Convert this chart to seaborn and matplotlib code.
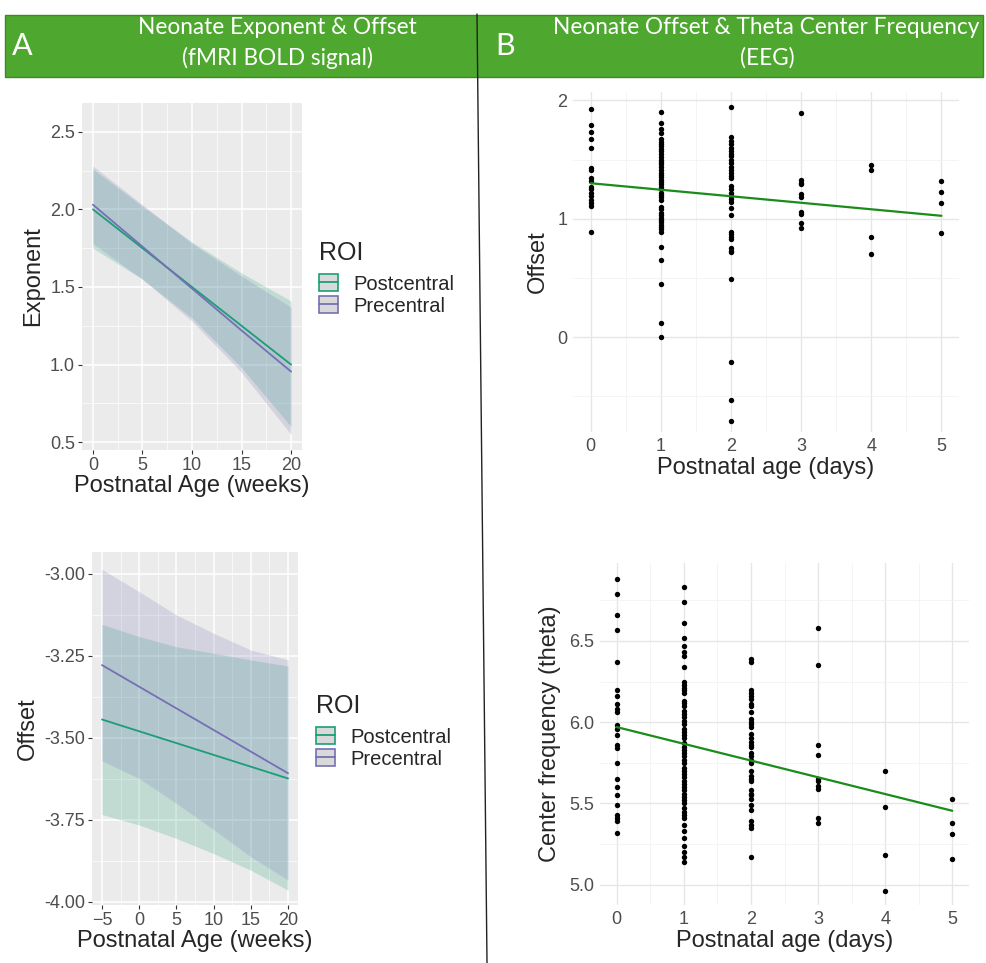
import numpy as np
import pandas as pd
import seaborn as sns
import matplotlib.pyplot as plt
from matplotlib.patches import Rectangle, Patch
from matplotlib.lines import Line2D
from matplotlib.ticker import MultipleLocator, FormatStrFormatter

# ---- Panel A (fMRI) model fits ----
roi_names = ['Postcentral', 'Precentral']
roi_colors = ['#1b9e77', '#7570b3']

exp_age = [0, 5, 10, 15, 20]
exp_post_fit = [2.00, 1.75, 1.50, 1.25, 1.00]
exp_pre_fit = [2.03, 1.76, 1.49, 1.22, 0.955]
exp_post_lo = [1.75, 1.55, 1.30, 0.98, 0.60]
exp_post_hi = [2.26, 2.02, 1.79, 1.59, 1.41]
exp_pre_lo = [1.78, 1.55, 1.28, 0.95, 0.55]
exp_pre_hi = [2.28, 2.03, 1.78, 1.57, 1.37]

off_age = [-5, 0, 5, 10, 15, 20]
off_post_fit = [-3.444, -3.480, -3.516, -3.552, -3.588, -3.624]
off_pre_fit = [-3.278, -3.344, -3.410, -3.476, -3.542, -3.608]
off_post_lo = [-3.734, -3.766, -3.807, -3.853, -3.904, -3.965]
off_post_hi = [-3.154, -3.191, -3.222, -3.242, -3.262, -3.281]
off_pre_lo = [-3.570, -3.624, -3.700, -3.780, -3.863, -3.934]
off_pre_hi = [-2.986, -3.054, -3.125, -3.181, -3.232, -3.262]

# ---- Panel B (EEG) data ----
offset_d0 = [1.93, 1.79, 1.73, 1.67, 1.60, 1.43, 1.41, 1.34, 1.32, 1.27, 1.25, 1.22, 1.19, 1.16, 1.13, 1.11, 0.89]
offset_d1 = [1.90, 1.81, 1.76, 1.72, 1.67, 1.65, 1.63, 1.61, 1.59, 1.57, 1.55, 1.52, 1.50, 1.48, 1.46,
             1.44, 1.41, 1.39, 1.37, 1.35, 1.33, 1.31, 1.29, 1.27, 1.25, 1.22, 1.20, 1.18, 1.16, 1.10,
             1.08, 1.05, 1.03, 1.01, 0.99, 0.97, 0.95, 0.93, 0.91, 0.89, 0.76, 0.65, 0.45, 0.12, 0.00]
offset_d2 = [1.94, 1.69, 1.66, 1.63, 1.60, 1.57, 1.55, 1.53, 1.50, 1.47, 1.44, 1.41, 1.39, 1.36, 1.34,
             1.28, 1.25, 1.22, 1.19, 1.17, 1.14, 1.09, 1.03, 0.89, 0.87, 0.85, 0.83, 0.75, 0.73, 0.72,
             0.49, -0.21, -0.53, -0.71]
offset_d3 = [1.89, 1.33, 1.30, 1.29, 1.21, 1.18, 1.06, 1.04, 0.96, 0.92]
offset_d4 = [1.45, 1.41, 0.85, 0.70]
offset_d5 = [1.32, 1.23, 1.13, 0.88]

theta_d0 = [6.88, 6.79, 6.66, 6.57, 6.37, 6.20, 6.16, 6.11, 6.08, 6.06, 5.98, 5.96, 5.92, 5.86, 5.84,
            5.75, 5.65, 5.60, 5.55, 5.49, 5.43, 5.41, 5.39, 5.32]
theta_d1 = [6.83, 6.74, 6.61, 6.52, 6.47, 6.43, 6.41, 6.34, 6.25, 6.23, 6.21, 6.20, 6.18, 6.13, 6.12,
            6.10, 6.07, 6.05, 6.03, 6.01, 5.99, 5.96, 5.94, 5.92, 5.90, 5.87, 5.85, 5.83, 5.81, 5.79,
            5.77, 5.75, 5.72, 5.70, 5.68, 5.66, 5.64, 5.62, 5.60, 5.58, 5.56, 5.54, 5.52, 5.50, 5.47,
            5.45, 5.43, 5.41, 5.37, 5.33, 5.29, 5.24, 5.20, 5.17, 5.14]
theta_d2 = [6.39, 6.37, 6.20, 6.18, 6.16, 6.14, 6.11, 6.10, 6.06, 6.02, 6.00, 5.99, 5.97, 5.93, 5.90,
            5.88, 5.86, 5.85, 5.81, 5.79, 5.77, 5.75, 5.70, 5.67, 5.65, 5.64, 5.58, 5.56, 5.55, 5.53,
            5.49, 5.46, 5.39, 5.37, 5.35, 5.17]
theta_d3 = [6.58, 6.35, 5.86, 5.80, 5.65, 5.64, 5.61, 5.59, 5.41, 5.38]
theta_d4 = [5.70, 5.48, 5.18, 4.96]
theta_d5 = [5.53, 5.38, 5.31, 5.16]

fit_days = [0, 5]
fit_offset = [1.30, 1.025]
fit_theta = [5.97, 5.455]


def long_table(groups):
    rows = []
    for day, vals in enumerate(groups):
        rows += [(day, v) for v in vals]
    return pd.DataFrame(rows, columns=['day', 'value'])


offset_df = long_table([offset_d0, offset_d1, offset_d2, offset_d3, offset_d4, offset_d5])
theta_df = long_table([theta_d0, theta_d1, theta_d2, theta_d3, theta_d4, theta_d5])

sns.set_theme(style='white')
plt.rcParams['font.family'] = ['Liberation Sans', 'DejaVu Sans']

W, H = 986, 963
fig = plt.figure(figsize=(W / 100, H / 100), dpi=100)


def ax_at(x0, y0, x1, y1):
    return fig.add_axes([x0 / W, 1 - y1 / H, (x1 - x0) / W, (y1 - y0) / H])


# ---- header ----
fig.patches.append(Rectangle((5 / W, 1 - 77 / H), 978 / W, 62 / H, transform=fig.transFigure,
                             facecolor='#4ea72e', edgecolor='#3d8a24', lw=1))
fig.lines.append(Line2D([477 / W, 487 / W], [1 - 14 / H, 0], transform=fig.transFigure,
                        color='#222222', lw=1))
hdr = dict(color='white', family='Lato', ha='center', va='center', fontsize=16.3)
fig.text(277 / W, 1 - 27 / H, 'Neonate Exponent & Offset', **hdr)
fig.text(277 / W, 1 - 58 / H, '(fMRI BOLD signal)', **hdr)
fig.text(766 / W, 1 - 27 / H, 'Neonate Offset & Theta Center Frequency', **hdr)
fig.text(767 / W, 1 - 58 / H, '(EEG)', **hdr)
fig.text(22 / W, 1 - 46 / H, 'A', color='white', family='Lato', ha='center', va='center', fontsize=22)
fig.text(505 / W, 1 - 46 / H, 'B', color='white', family='Lato', ha='center', va='center', fontsize=22)


def gg_grey(ax, xmaj, xmin, ymaj, ymin, yfmt):
    ax.set_facecolor('#ebebeb')
    for s in ax.spines.values():
        s.set_visible(False)
    ax.xaxis.set_major_locator(MultipleLocator(xmaj))
    ax.xaxis.set_minor_locator(MultipleLocator(xmin))
    ax.yaxis.set_major_locator(MultipleLocator(ymaj))
    ax.yaxis.set_minor_locator(MultipleLocator(ymin))
    ax.yaxis.set_major_formatter(FormatStrFormatter(yfmt))
    ax.grid(which='major', color='white', lw=1.1)
    ax.grid(which='minor', color='white', lw=0.5)
    ax.set_axisbelow(True)
    ax.tick_params(which='major', length=3, width=0.8, color='#333333', labelcolor='#4d4d4d',
                   labelsize=13, pad=2, bottom=True, left=True)
    ax.tick_params(which='minor', length=0)


def roi_panel(ax, ages, fits, los, his):
    for name, col, f, lo, hi in zip(roi_names, roi_colors, fits, los, his):
        ax.fill_between(ages, lo, hi, color=col, alpha=0.2, lw=0)
        sns.lineplot(x=ages, y=f, color=col, lw=1.3, ax=ax)
    handles = [(Patch(facecolor='#d9d9d9', edgecolor=c, lw=1.2), Line2D([], [], color=c, lw=1.3))
               for c in roi_colors]
    return handles


def roi_legend(ax, handles, x, y_title, y_keys):
    fig.text(x / W, 1 - y_title / H, 'ROI', fontsize=18, ha='left', va='center')
    ax.legend(handles, roi_names, loc='upper left', bbox_to_anchor=(x / W, 1 - y_keys / H),
              bbox_transform=fig.transFigure, frameon=False, fontsize=14.5,
              handlelength=0.95, handleheight=0.95, labelspacing=0.12, handletextpad=0.75,
              borderpad=0, borderaxespad=0)


# ---- Panel A top: exponent ----
axA1 = ax_at(82, 103, 302, 450)
hA = roi_panel(axA1, exp_age, [exp_post_fit, exp_pre_fit], [exp_post_lo, exp_pre_lo], [exp_post_hi, exp_pre_hi])
gg_grey(axA1, 5, 2.5, 0.5, 0.25, '%.1f')
axA1.set_xlim(-1.1, 21.1)
axA1.set_ylim(0.45, 2.685)
axA1.set_xlabel('Postnatal Age (weeks)', fontsize=17, labelpad=1)
axA1.set_ylabel('Exponent', fontsize=17, labelpad=4)
roi_legend(axA1, hA, 319, 253, 274)

# ---- Panel A bottom: offset ----
axA2 = ax_at(92, 552, 298, 905)
hA2 = roi_panel(axA2, off_age, [off_post_fit, off_pre_fit], [off_post_lo, off_pre_lo], [off_post_hi, off_pre_hi])
gg_grey(axA2, 5, 2.5, 0.25, 0.125, '%.2f')
axA2.set_xlim(-6.34, 21.34)
axA2.set_ylim(-4.01, -2.933)
axA2.set_xlabel('Postnatal Age (weeks)', fontsize=17, labelpad=1)
axA2.set_ylabel('Offset', fontsize=17, labelpad=4)
roi_legend(axA2, hA2, 316, 706, 727)


def minimal(ax, ymaj, ymin):
    for s in ax.spines.values():
        s.set_visible(False)
    ax.xaxis.set_major_locator(MultipleLocator(1))
    ax.xaxis.set_minor_locator(MultipleLocator(0.5))
    ax.yaxis.set_major_locator(MultipleLocator(ymaj))
    ax.yaxis.set_minor_locator(MultipleLocator(ymin))
    ax.grid(which='major', color='#e6e6e6', lw=1.0)
    ax.grid(which='minor', color='#f2f2f2', lw=0.6)
    ax.set_axisbelow(True)
    ax.tick_params(which='both', length=0, labelcolor='#4d4d4d', labelsize=13, pad=4)


# ---- Panel B top: EEG offset ----
axB1 = ax_at(573, 92, 959, 432)
sns.scatterplot(data=offset_df, x='day', y='value', color='black', s=15, linewidth=0, ax=axB1)
sns.lineplot(x=fit_days, y=fit_offset, color='#1a8c1a', lw=1.6, ax=axB1)
minimal(axB1, 1, 0.5)
axB1.set_xlim(-0.25, 5.25)
axB1.set_ylim(-0.80, 2.07)
axB1.set_xlabel('Postnatal age (days)', fontsize=17, labelpad=2)
axB1.set_ylabel('Offset', fontsize=17, labelpad=6)

# ---- Panel B bottom: theta center frequency ----
axB2 = ax_at(600, 563, 969, 905)
sns.scatterplot(data=theta_df, x='day', y='value', color='black', s=15, linewidth=0, ax=axB2)
sns.lineplot(x=fit_days, y=fit_theta, color='#1a8c1a', lw=1.6, ax=axB2)
minimal(axB2, 0.5, 0.25)
axB2.yaxis.set_major_formatter(FormatStrFormatter('%.1f'))
axB2.set_xlim(-0.25, 5.25)
axB2.set_ylim(4.875, 6.98)
axB2.set_xlabel('Postnatal age (days)', fontsize=17, labelpad=2)
axB2.set_ylabel('Center frequency (theta)', fontsize=17, labelpad=6)

fig.savefig('out.png', dpi=100)
